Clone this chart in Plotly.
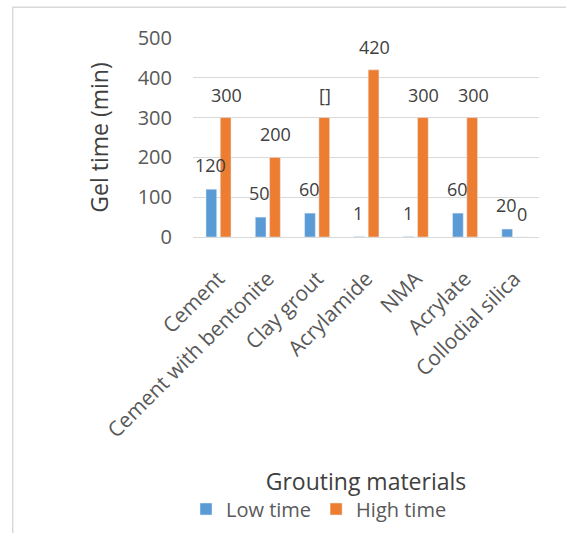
import plotly.graph_objects as go

categories = ["Cement", "Cement with bentonite", "Clay grout", "Acrylamide", "NMA", "Acrylate", "Collodial silica"]
low_time = [120, 50, 60, 1, 1, 60, 20]
high_time = [300, 200, 300, 420, 300, 300, 0]
low_labels = ["120", "50", "60", "1", "1", "60", "20"]
high_labels = ["300", "200", "[]", "420", "300", "300", "0"]
y_ticks = [0, 100, 200, 300, 400, 500]

BLUE = "#5B9BD5"
ORANGE = "#ED7D31"
FONT = "Open Sans"

fig = go.Figure()
fig.add_trace(go.Bar(name="Low time", x=categories, y=low_time, marker_color=BLUE))
fig.add_trace(go.Bar(name="High time", x=categories, y=high_time, marker_color=ORANGE))

annotations = []
for cat, v, t in zip(categories, low_time, low_labels):
    annotations.append(dict(x=cat, y=v, text=t, showarrow=False, xshift=-8, yshift=24,
                            font=dict(family=FONT, size=18, color="#404040")))
for cat, v, t in zip(categories, high_time, high_labels):
    annotations.append(dict(x=cat, y=v, text=t, showarrow=False, xshift=8, yshift=23,
                            font=dict(family=FONT, size=18, color="#404040")))

W, H = 566, 533
L, R, T, B = 193, 27, 38, 296
pw, ph = W - L - R, H - T - B

def px_x(x):
    return (x - L) / pw

def px_y(y):
    return (H - B - y) / ph

fig.update_layout(
    width=W, height=H,
    margin=dict(l=L, r=R, t=T, b=B, autoexpand=False),
    paper_bgcolor="white", plot_bgcolor="white",
    font=dict(family=FONT, color="#595959"),
    barmode="group", bargap=0.42, bargroupgap=0.25,
    showlegend=True,
    legend=dict(orientation="h", x=px_x(186), xanchor="left", y=px_y(509), yanchor="middle",
                font=dict(family=FONT, size=20, color="#595959"), bgcolor="rgba(0,0,0,0)",
                itemclick=False),
    annotations=annotations,
    shapes=[dict(type="rect", xref="paper", yref="paper", x0=px_x(12.7), x1=px_x(700),
                 y0=px_y(700), y1=px_y(7.3), line=dict(color="#d9d9d9", width=1.5),
                 fillcolor="rgba(0,0,0,0)", layer="below")],
)

fig.update_xaxes(
    tickangle=-45, tickfont=dict(family=FONT, size=21, color="#595959"),
    showgrid=False, showline=True, linecolor="#d9d9d9", linewidth=1.3,
    ticks="", ticklabelstandoff=20,
    title=dict(text="Grouting materials", font=dict(family=FONT, size=23, color="#404040"), standoff=31),
    automargin=False,
)
fig.update_yaxes(
    range=[0, 500], tickvals=y_ticks, tickfont=dict(family=FONT, size=20, color="#595959"),
    showgrid=True, gridcolor="#d9d9d9", gridwidth=1.3, zeroline=False, showline=False,
    ticks="", ticklabelstandoff=20,
    title=dict(text="Gel time (min)", font=dict(family=FONT, size=23, color="#404040"), standoff=22),
    automargin=False,
)

fig.write_html("out.html")
